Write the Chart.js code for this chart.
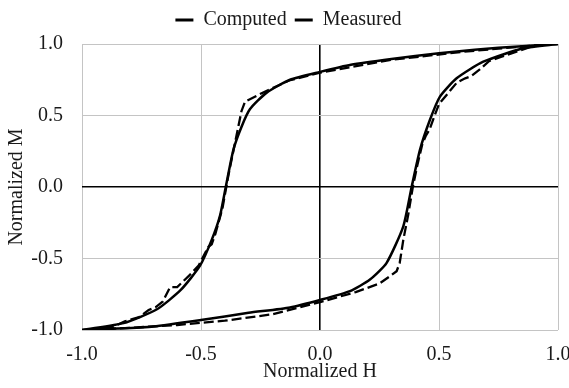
<!DOCTYPE html>
<html>
<head>
<meta charset="utf-8">
<script src="https://cdn.jsdelivr.net/npm/chart.js@4/dist/chart.umd.min.js"></script>
<style>
  html, body { margin: 0; padding: 0; background: #fff; }
  #wrap { width: 569px; height: 388px; }
</style>
</head>
<body>
<div id="wrap"><canvas id="mycanvas"></canvas></div>
<script>
// measured loop: upper branch (H decreasing) then lower branch (H increasing)
var measuredH = [1.0, 0.85, 0.65, 0.5, 0.3, 0.13, 0.0, -0.126, -0.224, -0.294, -0.33, -0.364, -0.396, -0.42, -0.455, -0.504, -0.585, -0.685, -0.825, -1.0,
                 -0.85, -0.7, -0.5, -0.3, -0.126, 0.0, 0.126, 0.21, 0.28, 0.35, 0.385, 0.42, 0.462, 0.504, 0.574, 0.686, 0.854, 1.0];
var measuredM = [1.0, 0.985, 0.96, 0.935, 0.895, 0.855, 0.805, 0.75, 0.66, 0.545, 0.42, 0.26, 0.0, -0.2, -0.37, -0.55, -0.72, -0.855, -0.952, -1.0,
                 -0.99, -0.975, -0.93, -0.88, -0.842, -0.79, -0.728, -0.647, -0.53, -0.275, 0.0, 0.26, 0.47, 0.632, 0.76, 0.876, 0.97, 1.0];

var computedH = [1.0, 0.9, 0.6, 0.3, 0.0, -0.13, -0.252, -0.315, -0.33, -0.357, -0.385, -0.41, -0.44, -0.455, -0.47, -0.51, -0.55, -0.6, -0.63, -0.66, -0.69, -0.72, -0.76, -0.82, -0.86, -0.9, -1.0,
                 -0.8, -0.6, -0.4, -0.2, 0.0, 0.15, 0.25, 0.294, 0.322, 0.335, 0.35, 0.37, 0.39, 0.41, 0.43, 0.445, 0.46, 0.475, 0.5, 0.54, 0.575, 0.61, 0.635, 0.67, 0.71, 0.76, 0.86, 0.9, 1.0];
var computedM = [1.0, 0.99, 0.945, 0.89, 0.8, 0.745, 0.65, 0.597, 0.53, 0.31, 0.08, -0.15, -0.33, -0.4, -0.42, -0.55, -0.62, -0.7, -0.7, -0.8, -0.84, -0.86, -0.91, -0.94, -0.97, -0.985, -1.0,
                 -0.985, -0.965, -0.935, -0.89, -0.805, -0.735, -0.675, -0.624, -0.589, -0.53, -0.37, -0.2, 0.0, 0.16, 0.3, 0.36, 0.4, 0.47, 0.58, 0.66, 0.73, 0.76, 0.775, 0.82, 0.88, 0.91, 0.965, 0.99, 1.0];

var tickValues = [-1.0, -0.5, 0.0, 0.5, 1.0];

function toPoints(xs, ys) {
	var pts = [];
	for (var i in xs) {
		pts.push({x: xs[i], y: ys[i]});
	}
	return pts;
}

var font = 'Liberation Serif';
var gridColor = function(ctx) {
	return ctx.tick && ctx.tick.value === 0 ? '#000000' : '#c4c4c4';
};
var gridWidth = function(ctx) {
	return ctx.tick && ctx.tick.value === 0 ? 1.6 : 1;
};

// a bit of extra room under the legend
var legendGap = {
	id: 'legendGap',
	beforeLayout: function(chart) {
		var legend = chart.legend;
		if (!legend || legend._gapDone) return;
		var fit = legend.fit;
		legend.fit = function() {
			fit.call(this);
			this.height += 4;
		};
		legend._gapDone = true;
	}
};

var chartdata = {
	datasets: [
		{
			label: 'Computed',
			data: toPoints(computedH, computedM),
			borderColor: '#000',
			backgroundColor: '#000',
			borderWidth: 2.3,
			borderDash: [10, 4],
			showLine: true,
			pointRadius: 0,
			tension: 0
		},
		{
			label: 'Measured',
			data: toPoints(measuredH, measuredM),
			borderColor: '#000',
			backgroundColor: '#000',
			borderWidth: 2.5,
			showLine: true,
			pointRadius: 0,
			tension: 0.2
		}
	]
};

var ctx = document.getElementById('mycanvas');

var chart = new Chart(ctx, {
	type: 'scatter',
	data: chartdata,
	plugins: [legendGap],
	options: {
		responsive: true,
		maintainAspectRatio: false,
		animation: false,
		layout: { padding: { top: 2, right: 0, left: 8, bottom: 4 } },
		plugins: {
			tooltip: { enabled: false },
			legend: {
				position: 'top',
				labels: {
					color: '#1a1a1a',
					font: { family: font, size: 20 },
					usePointStyle: true,
					pointStyle: 'line',
					pointStyleWidth: 18,
					padding: 8,
					generateLabels: function(chart) {
						var items = Chart.defaults.plugins.legend.labels.generateLabels(chart);
						items.forEach(function(it) { it.lineDash = []; it.lineWidth = 3; });
						return items;
					}
				}
			}
		},
		scales: {
			x: {
				type: 'linear',
				min: -1, max: 1,
				afterBuildTicks: function(axis) { axis.ticks = tickValues.map(function(v) { return {value: v}; }); },
				afterFit: function(axis) {
					axis.height = 54;
					axis.paddingLeft = 0;
					axis.paddingRight = 11;
				},
				ticks: {
					color: '#1a1a1a',
					font: { family: font, size: 20 },
					padding: 13,
					maxRotation: 0,
					callback: function(v) { return v.toFixed(1); }
				},
				grid: { color: gridColor, lineWidth: gridWidth, drawTicks: false },
				border: { display: false },
				title: { display: true, text: 'Normalized H', color: '#1a1a1a', font: { family: font, size: 20 }, padding: { top: 0, bottom: 0 } }
			},
			y: {
				type: 'linear',
				min: -1, max: 1,
				afterBuildTicks: function(axis) { axis.ticks = tickValues.map(function(v) { return {value: v}; }); },
				afterFit: function(axis) {
					axis.width = 74;
				},
				ticks: {
					color: '#1a1a1a',
					font: { family: font, size: 20 },
					padding: 19,
					callback: function(v) { return v.toFixed(1); }
				},
				grid: { color: gridColor, lineWidth: gridWidth, drawTicks: false },
				border: { display: false },
				title: { display: true, text: 'Normalized M', color: '#1a1a1a', font: { family: font, size: 20 }, padding: { top: -3, bottom: 0 } }
			}
		}
	}
});
</script>
</body>
</html>
